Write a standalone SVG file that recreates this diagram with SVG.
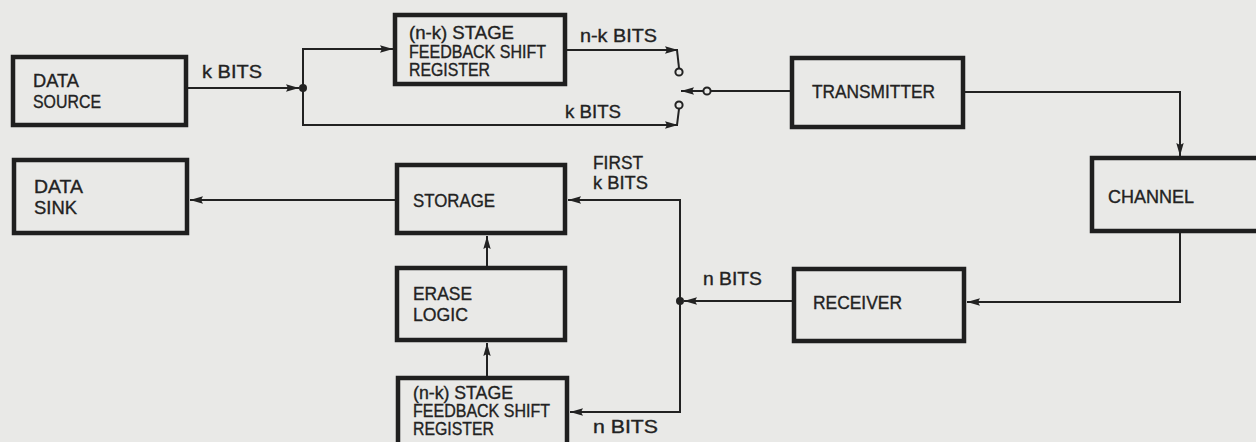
<svg xmlns="http://www.w3.org/2000/svg" width="1256" height="442" viewBox="0 0 1256 442">
<style>
.box{fill:none;stroke:#1f1f1f;stroke-width:4.5}
.ln{fill:none;stroke:#222;stroke-width:2}
.t{font-family:"Liberation Sans",Arial,sans-serif;font-size:18.5px;fill:#222;stroke:#222;stroke-width:0.35}
.s{font-size:17.5px}
.sw{fill:#e9e9e7;stroke:#222;stroke-width:2}
.dot{fill:#222}
</style>
<defs>
<marker id="ah" markerUnits="userSpaceOnUse" markerWidth="13" markerHeight="9" refX="13" refY="4.5" orient="auto">
<path d="M0,0.8 L13,4.5 L0,8.2 L2,4.5 z" fill="#222"/>
</marker>
</defs>
<rect width="1256" height="442" fill="#e9e9e7"/>

<g id="data-source">
<rect class="box" x="13" y="57" width="173" height="68"/>
<text class="t" x="33" y="87" textLength="46" lengthAdjust="spacingAndGlyphs">DATA</text>
<text class="t" x="33" y="108" textLength="68" lengthAdjust="spacingAndGlyphs">SOURCE</text>
</g>
<g id="fsr-top">
<rect class="box" x="395" y="15" width="170" height="69"/>
<text class="t s" x="409" y="39" textLength="105" lengthAdjust="spacingAndGlyphs">(n-k) STAGE</text>
<text class="t s" x="409" y="57.5" textLength="137" lengthAdjust="spacingAndGlyphs">FEEDBACK SHIFT</text>
<text class="t s" x="409" y="76" textLength="81" lengthAdjust="spacingAndGlyphs">REGISTER</text>
</g>
<g id="transmitter">
<rect class="box" x="792" y="58" width="171" height="69"/>
<text class="t" x="812" y="98" textLength="123" lengthAdjust="spacingAndGlyphs">TRANSMITTER</text>
</g>
<g id="channel">
<rect class="box" x="1092" y="158" width="200" height="73"/>
<text class="t" x="1108" y="203" textLength="86" lengthAdjust="spacingAndGlyphs">CHANNEL</text>
</g>
<g id="data-sink">
<rect class="box" x="14" y="160" width="173" height="73"/>
<text class="t" x="34" y="193" textLength="49" lengthAdjust="spacingAndGlyphs">DATA</text>
<text class="t" x="34" y="214" textLength="43" lengthAdjust="spacingAndGlyphs">SINK</text>
</g>
<g id="storage">
<rect class="box" x="397" y="165" width="168" height="68"/>
<text class="t" x="413" y="207" textLength="82" lengthAdjust="spacingAndGlyphs">STORAGE</text>
</g>
<g id="erase-logic">
<rect class="box" x="397" y="268" width="168" height="72"/>
<text class="t" x="413" y="300" textLength="59" lengthAdjust="spacingAndGlyphs">ERASE</text>
<text class="t" x="413" y="321" textLength="55" lengthAdjust="spacingAndGlyphs">LOGIC</text>
</g>
<g id="receiver">
<rect class="box" x="794" y="269" width="170" height="72"/>
<text class="t" x="813" y="309" textLength="89" lengthAdjust="spacingAndGlyphs">RECEIVER</text>
</g>
<g id="fsr-bottom">
<rect class="box" x="398" y="378" width="169" height="100"/>
<text class="t s" x="413" y="399" textLength="100" lengthAdjust="spacingAndGlyphs">(n-k) STAGE</text>
<text class="t s" x="413" y="417" textLength="137" lengthAdjust="spacingAndGlyphs">FEEDBACK SHIFT</text>
<text class="t s" x="413" y="435" textLength="81" lengthAdjust="spacingAndGlyphs">REGISTER</text>
</g>

<g id="connectors">
<path class="ln" d="M188,88 H299" marker-end="url(#ah)"/>
<circle class="dot" cx="303" cy="88" r="4"/>
<path class="ln" d="M303,88 V49 H393" marker-end="url(#ah)"/>
<path class="ln" d="M303,88 V125 H678" marker-end="url(#ah)"/>
<path class="ln" d="M677,125 L679,109"/>
<path class="ln" d="M567,50 H678" marker-end="url(#ah)"/>
<path class="ln" d="M677,50 L679,68"/>
<circle class="sw" cx="679" cy="72" r="3.6"/>
<circle class="sw" cx="679" cy="105" r="3.6"/>
<path class="ln" d="M790,91 H711"/>
<circle class="sw" cx="707" cy="91" r="3.6"/>
<path class="ln" d="M703,91 H681" marker-end="url(#ah)"/>
<path class="ln" d="M965,92 H1180 V156" marker-end="url(#ah)"/>
<path class="ln" d="M1180,233 V302 H967" marker-end="url(#ah)"/>
<path class="ln" d="M792,301 H684" marker-end="url(#ah)"/>
<circle class="dot" cx="680" cy="301" r="4"/>
<path class="ln" d="M680,301 V200 H568" marker-end="url(#ah)"/>
<path class="ln" d="M680,301 V412 H570" marker-end="url(#ah)"/>
<path class="ln" d="M395,200 H190" marker-end="url(#ah)"/>
<path class="ln" d="M487,266 V236" marker-end="url(#ah)"/>
<path class="ln" d="M487,376 V343" marker-end="url(#ah)"/>
<text class="t" x="202" y="78" textLength="60" lengthAdjust="spacingAndGlyphs">k BITS</text>
<text class="t" x="580" y="42" textLength="77" lengthAdjust="spacingAndGlyphs">n-k BITS</text>
<text class="t" x="565" y="118" textLength="56" lengthAdjust="spacingAndGlyphs">k BITS</text>
<text class="t" x="593" y="169" textLength="50" lengthAdjust="spacingAndGlyphs">FIRST</text>
<text class="t" x="593" y="189" textLength="55" lengthAdjust="spacingAndGlyphs">k BITS</text>
<text class="t" x="703" y="285" textLength="59" lengthAdjust="spacingAndGlyphs">n BITS</text>
<text class="t" x="593" y="433" textLength="65" lengthAdjust="spacingAndGlyphs">n BITS</text>
</g>
</svg>
